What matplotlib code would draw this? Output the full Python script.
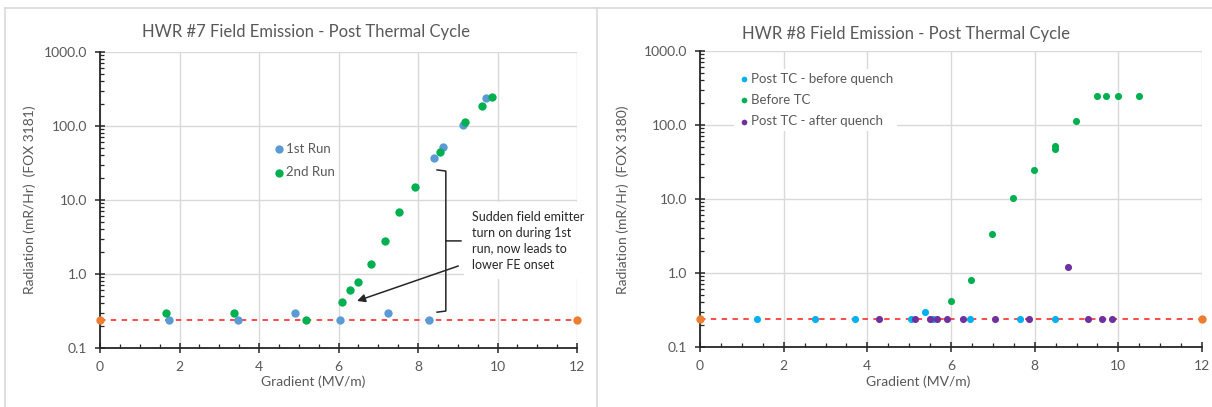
import matplotlib
matplotlib.use("Agg")
import matplotlib.pyplot as plt
from matplotlib.lines import Line2D
from matplotlib.ticker import FixedLocator, NullFormatter

plt.rcParams['font.family'] = ['Lato', 'DejaVu Sans']

# HWR #7 field emission, two runs after thermal cycle
run1_x = [1.73, 3.47, 4.90, 6.05, 7.25, 8.27, 8.40, 8.62, 9.13, 9.72]
run1_y = [0.24, 0.24, 0.30, 0.24, 0.30, 0.24, 37, 52, 103, 238]
run2_x = [1.65, 3.38, 5.17, 6.10, 6.30, 6.50, 6.81, 7.18, 7.53, 7.92, 8.56, 9.18, 9.62, 9.85]
run2_y = [0.30, 0.30, 0.24, 0.42, 0.60, 0.77, 1.37, 2.8, 6.9, 15.2, 44.5, 113, 188, 246]

# HWR #8 field emission
before_q_x = [1.36, 2.75, 3.70, 5.04, 5.37, 5.56, 6.46, 7.65, 8.49]
before_q_y = [0.24, 0.24, 0.24, 0.24, 0.30, 0.24, 0.24, 0.24, 0.24]
before_tc_x = [5.99, 6.49, 6.99, 7.49, 7.99, 8.49, 8.49, 8.98, 9.49, 9.70, 9.99, 10.5]
before_tc_y = [0.42, 0.80, 3.4, 10.4, 24.4, 48, 52, 112, 246, 250, 250, 250]
after_q_x = [4.28, 5.14, 5.50, 5.67, 5.90, 6.28, 7.04, 7.87, 8.79, 9.27, 9.60, 9.84]
after_q_y = [0.24, 0.24, 0.24, 0.24, 0.24, 0.24, 0.24, 0.24, 1.19, 0.24, 0.24, 0.24]

# background level (end points of the dashed line)
bg_x = [0, 12]
bg_y = [0.24, 0.24]

W, H = 1212, 407
GRAY = '#595959'
GRID = '#D9D9D9'

fig = plt.figure(figsize=(W / 100, H / 100), dpi=100)


def px_axes(x0, y0, x1, y1):
    return fig.add_axes([x0 / W, 1 - y1 / H, (x1 - x0) / W, (y1 - y0) / H])


def style_axes(ax):
    ax.set_yscale('log')
    ax.set_xlim(0, 12)
    ax.set_ylim(0.1, 1000)
    ax.set_xticks(range(0, 13, 2))
    ax.xaxis.set_minor_locator(FixedLocator([i * 0.5 for i in range(25)]))
    ax.set_yticks([0.1, 1, 10, 100, 1000])
    ax.set_yticklabels(['0.1', '1.0', '10.0', '100.0', '1000.0'])
    ax.yaxis.set_minor_formatter(NullFormatter())
    for s in ['top', 'right']:
        ax.spines[s].set_visible(False)
    for s in ['left', 'bottom']:
        ax.spines[s].set_color('#262626')
        ax.spines[s].set_linewidth(1.3)
    ax.tick_params(which='major', direction='inout', length=7, width=1.1,
                   color='#262626', labelcolor=GRAY, labelsize=10, pad=6)
    ax.tick_params(which='minor', direction='in', length=3, width=0.9, color='#262626')
    ax.grid(True, which='major', color=GRID, lw=1.0)
    ax.set_axisbelow(True)
    ax.plot(bg_x, bg_y, color='#FF3B3B', lw=1.3, ls=(0, (3, 3)), zorder=2)
    ax.scatter(bg_x, bg_y, s=36, color='#ED7D31', zorder=4, clip_on=False, linewidths=0)


# panel frames
fig.add_artist(Line2D([5 / W, 1], [1 - 8 / H] * 2, color=GRID, lw=1.2))
fig.add_artist(Line2D([5 / W] * 2, [0, 1 - 8 / H], color=GRID, lw=1.2))
fig.add_artist(Line2D([597 / W] * 2, [0, 1 - 8 / H], color=GRID, lw=1.2))

# left chart
ax1 = px_axes(100, 52, 577, 348)
style_axes(ax1)
ax1.scatter(run1_x, run1_y, s=36, color='#5B9BD5', zorder=3, linewidths=0, label='1st Run')
ax1.scatter(run2_x, run2_y, s=36, color='#00B050', zorder=3, linewidths=0, label='2nd Run')
ax1.legend(loc='upper left', bbox_to_anchor=((262 - 100) / 477, (348 - 132) / 296),
           frameon=False, fontsize=9.5, labelcolor=GRAY, handletextpad=0.0,
           handlelength=1.0, labelspacing=0.9, borderpad=0.3)

# brace, callout and arrow
ax1.plot([8.48, 8.70, 8.70, 9.08], [25.5, 24.6, 2.8, 2.8], color='#262626', lw=1.1, zorder=3)
ax1.plot([8.70, 8.70, 8.48], [2.8, 0.316, 0.305], color='#262626', lw=1.1, zorder=3)
ax1.text(9.36, 7.2, 'Sudden field emitter\nturn on during 1st\nrun, now leads to\nlower FE onset',
         fontsize=9, color='#262626', va='top', ha='left', linespacing=1.4, zorder=5,
         bbox=dict(facecolor='white', edgecolor='none', pad=6))
ax1.annotate('', xy=(6.4, 0.42), xytext=(9.08, 1.32),
             arrowprops=dict(arrowstyle='-|>', color='#262626', lw=1.1, mutation_scale=12),
             zorder=6)

fig.text(306 / W, 1 - 32 / H, 'HWR #7 Field Emission - Post Thermal Cycle',
         ha='center', va='center', fontsize=12, color=GRAY)
fig.text(30 / W, 1 - 200 / H, 'Radiation (mR/Hr)  (FOX 3181)', rotation=90,
         ha='center', va='center', fontsize=10, color=GRAY)
fig.text(313 / W, 1 - 382 / H, 'Gradient (MV/m)', ha='center', va='center',
         fontsize=10, color=GRAY)

# right chart
ax2 = px_axes(700, 51, 1202, 347)
style_axes(ax2)
ax2.scatter(before_q_x, before_q_y, s=26, color='#00B0F0', zorder=3, linewidths=0,
            label='Post TC - before quench')
ax2.scatter(before_tc_x, before_tc_y, s=26, color='#00B050', zorder=3, linewidths=0,
            label='Before TC')
ax2.scatter(after_q_x, after_q_y, s=26, color='#7030A0', zorder=3, linewidths=0,
            label='Post TC - after quench')
leg2 = ax2.legend(loc='upper left', bbox_to_anchor=((727 - 700) / 502, (347 - 62) / 296),
                  frameon=True, facecolor='white', edgecolor='none', framealpha=1,
                  fontsize=9.5, labelcolor=GRAY, handletextpad=0.0, handlelength=1.0,
                  labelspacing=0.7, borderpad=0.3, markerscale=0.8, fancybox=False)
leg2.set_zorder(2.5)

fig.text(906 / W, 1 - 34 / H, 'HWR #8 Field Emission - Post Thermal Cycle',
         ha='center', va='center', fontsize=12, color=GRAY)
fig.text(623 / W, 1 - 200 / H, 'Radiation (mR/Hr)  (FOX 3180)', rotation=90,
         ha='center', va='center', fontsize=10, color=GRAY)
fig.text(918 / W, 1 - 382 / H, 'Gradient (MV/m)', ha='center', va='center',
         fontsize=10, color=GRAY)

fig.savefig('out.png', dpi=100)
